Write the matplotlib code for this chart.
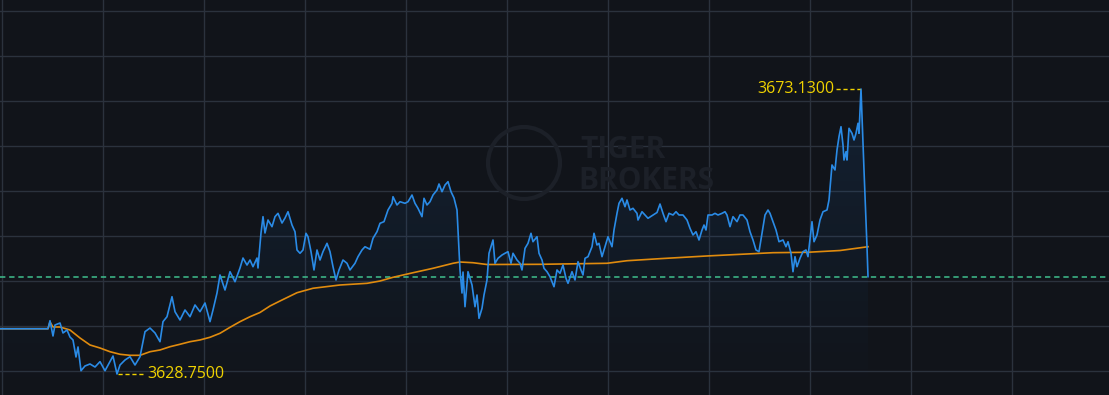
import numpy as np
import matplotlib
matplotlib.use("Agg")
import matplotlib.pyplot as plt
from matplotlib.patches import Polygon, Ellipse
from matplotlib.colors import LinearSegmentedColormap

# ---- data (time index, price) ----
t_price = [0, 48, 50, 53, 55, 60, 63, 67, 70, 73, 76, 78, 81, 85, 90, 95, 100, 105, 110, 113,
           117, 120, 125, 130, 135, 140, 145, 150, 155, 160, 163, 167, 172, 175, 180, 185, 190, 195,
           200, 205, 210, 213, 217, 220, 225, 230, 235, 240, 243, 247, 250, 253, 257, 258, 261, 263,
           265, 268, 272, 275, 278, 282, 285, 288, 292, 295, 297, 300, 303, 306, 308, 311, 314, 317,
           320, 323, 327, 330, 333, 336, 339, 343, 347, 350, 355, 358, 362, 365, 370, 373, 377, 380,
           384, 388, 392, 393, 397, 400, 405, 408, 412, 415, 418, 422, 424, 427, 430, 433, 437, 439,
           442, 445, 448, 451, 454, 457, 458, 460, 462, 463, 465, 468, 472, 475, 477, 479, 482, 484,
           487, 489, 493, 495, 498, 502, 505, 508, 511, 513, 517, 520, 522, 525, 528, 531, 533, 537,
           539, 542, 544, 547, 550, 554, 557, 560, 563, 566, 568, 572, 575, 578, 581, 583, 585, 588,
           592, 594, 597, 599, 602, 605, 608, 612, 614, 617, 619, 622, 625, 627, 630, 633, 637, 638,
           642, 645, 648, 653, 657, 660, 663, 666, 669, 673, 676, 679, 683, 687, 690, 693, 696, 699,
           702, 704, 706, 708, 712, 715, 718, 722, 725, 727, 730, 733, 737, 740, 743, 747, 750, 753,
           756, 759, 762, 765, 768, 770, 773, 776, 779, 783, 786, 788, 791, 793, 795, 797, 800, 803,
           806, 808, 812, 814, 817, 820, 823, 827, 829, 832, 835, 837, 839, 841, 843, 844, 846, 847,
           849, 852, 854, 856, 858, 859, 861, 864, 867, 868]
price = [3635.80, 3635.80, 3637.05, 3634.67, 3636.38, 3636.69, 3635.14, 3635.60, 3634.51, 3634.05,
         3631.40, 3632.96, 3629.26, 3630.00, 3630.31, 3629.84, 3630.67, 3629.26, 3630.67, 3631.55,
         3628.75, 3630.15, 3630.93, 3631.44, 3630.15, 3631.44, 3635.34, 3635.91, 3635.14, 3633.78,
         3636.90, 3637.67, 3640.79, 3638.45, 3637.16, 3638.72, 3637.67, 3639.50, 3638.45, 3639.81,
         3636.90, 3638.72, 3641.36, 3644.17, 3641.83, 3644.68, 3643.12, 3645.26, 3646.81, 3645.72,
         3646.50, 3645.46, 3646.81, 3645.26, 3650.71, 3653.25, 3650.71, 3652.73, 3651.69, 3653.25,
         3653.77, 3652.26, 3653.04, 3654.02, 3651.95, 3650.91, 3648.06, 3647.55, 3648.06, 3650.66,
         3650.13, 3647.80, 3644.95, 3648.06, 3646.50, 3647.80, 3649.10, 3647.80, 3645.46, 3643.39,
         3644.95, 3646.50, 3645.99, 3644.95, 3645.99, 3647.02, 3648.06, 3648.57, 3648.17, 3649.88,
         3650.91, 3652.22, 3652.47, 3654.29, 3655.33, 3656.36, 3655.07, 3655.58, 3655.33, 3655.58,
         3656.62, 3655.33, 3654.55, 3653.25, 3656.11, 3655.07, 3655.58, 3656.62, 3657.40, 3658.34,
         3657.14, 3658.18, 3658.70, 3657.14, 3656.16, 3654.29, 3651.17, 3644.95, 3641.36, 3644.63,
         3639.23, 3644.68, 3642.61, 3639.23, 3641.05, 3637.42, 3638.98, 3641.05, 3643.39, 3647.55,
         3649.62, 3645.99, 3646.77, 3647.28, 3647.55, 3647.80, 3645.99, 3647.55, 3646.50, 3645.99,
         3644.95, 3648.32, 3649.10, 3650.66, 3649.35, 3650.13, 3647.55, 3646.50, 3645.21, 3644.68,
         3643.90, 3642.34, 3644.95, 3644.43, 3645.72, 3643.65, 3642.87, 3644.68, 3643.39, 3646.24,
         3644.95, 3644.17, 3646.77, 3647.02, 3648.57, 3650.66, 3648.84, 3649.10, 3647.02, 3648.57,
         3650.13, 3648.57, 3651.17, 3653.77, 3655.33, 3656.11, 3654.80, 3655.85, 3654.29, 3654.55,
         3653.77, 3652.73, 3654.02, 3653.51, 3653.00, 3653.51, 3653.90, 3655.22, 3653.77, 3652.47,
         3653.77, 3653.51, 3654.02, 3653.51, 3653.51, 3652.73, 3651.44, 3650.40, 3650.91, 3649.62,
         3651.17, 3651.95, 3651.17, 3653.51, 3653.51, 3653.77, 3653.51, 3653.77, 3654.02, 3653.51,
         3651.69, 3653.25, 3652.47, 3653.51, 3653.51, 3652.73, 3650.91, 3649.62, 3648.06, 3647.80,
         3650.66, 3653.51, 3654.29, 3653.77, 3652.47, 3651.17, 3649.35, 3649.62, 3648.57, 3649.35,
         3647.55, 3644.68, 3647.02, 3645.46, 3646.77, 3647.80, 3648.06, 3647.02, 3652.47, 3649.35,
         3650.40, 3652.73, 3654.02, 3654.29, 3655.85, 3661.30, 3660.52, 3663.63, 3665.70, 3667.26,
         3664.41, 3662.07, 3663.37, 3662.07, 3667.01, 3666.23, 3665.19, 3666.23, 3667.79, 3666.23,
         3673.13, 3660.52, 3648.57, 3643.90]

t_avg = [0, 48, 50, 53, 60, 70, 80, 90, 100, 110, 120, 130, 140, 150, 160, 170, 180, 190, 200,
         210, 220, 230, 240, 250, 260, 270, 280, 297, 313, 340, 367, 380, 393, 413, 433, 453, 460,
         473, 487, 540, 607, 627, 660, 707, 773, 807, 840, 868]
avg_price = [3635.80, 3635.80, 3636.85, 3636.07, 3636.07, 3635.60, 3634.36, 3633.27, 3632.80,
             3632.22, 3631.82, 3631.66, 3631.66, 3632.22, 3632.49, 3633.00, 3633.38, 3633.78,
             3634.05, 3634.47, 3635.09, 3636.02, 3636.90, 3637.67, 3638.33, 3639.34, 3640.12,
             3641.41, 3642.10, 3642.61, 3642.87, 3643.23, 3643.81, 3644.52, 3645.21, 3645.99,
             3646.19, 3646.08, 3645.80, 3645.83, 3645.99, 3646.39, 3646.71, 3647.13, 3647.64,
             3647.70, 3647.98, 3648.57]

prev_close = 3643.81
y_top, y_bottom = 3686.99, 3625.48
x_end = 1109

# ---- styling ----
BG = "#11141a"
GRID = "#2b323d"
BLUE = "#2a8be6"
ORANGE = "#e08b0e"
YELLOW = "#f0d200"
GREEN = "#3fc08e"

W, H = 1109, 395
fig = plt.figure(figsize=(W / 100, H / 100), dpi=100, facecolor=BG)
ax = fig.add_axes([0, 0, 1, 1], facecolor=BG)
ax.set_xlim(0, x_end)
ax.set_ylim(y_bottom, y_top)
for s in ax.spines.values():
    s.set_visible(False)
ax.set_xticks([])
ax.set_yticks([])

yspan = y_top - y_bottom
# grid (layout: every 45 px vertically, 101 px horizontally)
for k in range(9):
    gy = y_top - (11.3 + 45 * k) / H * yspan
    ax.axhline(gy, color=GRID, lw=1.0, zorder=1)
for k in range(11):
    gx = 1.5 + 101 * k
    ax.axvline(gx, color=GRID, lw=1.0, zorder=1)

# watermark
wm = "#1c2028"
cx, cy = 524, 163
ax.add_patch(Ellipse((cx, y_top - cy / H * yspan), 72, 72 / H * yspan,
                     fill=False, ec=wm, lw=3, zorder=1.2))
ax.text(580, y_top - 150 / H * yspan, "TIGER", color=wm, fontsize=21.5, fontweight="bold",
        family="Open Sans", va="center", ha="left", zorder=1.2)
ax.text(578, y_top - 181 / H * yspan, "BROKERS", color=wm, fontsize=21.5, fontweight="bold",
        family="Open Sans", va="center", ha="left", zorder=1.2)

t = np.array(t_price, dtype=float)
p = np.array(price)

# gradient fill under the price line
verts = [(t[0], y_bottom)] + list(zip(t, p)) + [(t[-1], y_bottom)]
poly = Polygon(verts, closed=True, facecolor="none", edgecolor="none")
ax.add_patch(poly)
grad = np.linspace(0, 1, 256).reshape(-1, 1)
cmap = LinearSegmentedColormap.from_list("g", [(0.12, 0.45, 0.8, 0.0), (0.12, 0.45, 0.8, 0.14)])
im = ax.imshow(grad, extent=[0, x_end, y_bottom, p.max()], origin="lower", aspect="auto",
               cmap=cmap, zorder=1.5)
im.set_clip_path(poly)

# prev close dashed
ax.axhline(prev_close, color=GREEN, lw=1.1, ls=(0, (3.5, 2.5)), zorder=2)

ax.plot(t_avg, avg_price, color=ORANGE, lw=1.2, zorder=3)
ax.plot(t, p, color=BLUE, lw=1.2, zorder=4)
ax.set_xlim(0, x_end)
ax.set_ylim(y_bottom, y_top)

# max / min annotations
imax = int(np.argmax(p))
imin = int(np.argmin(p))
ax.plot([t[imax] - 25, t[imax] - 1], [p[imax], p[imax]], color=YELLOW, lw=1, ls=(0, (3, 2)), zorder=5)
ax.text(t[imax] - 27, p[imax], f"{p[imax]:.4f}", color=YELLOW, fontsize=11.5, family="Open Sans",
        ha="right", va="center", zorder=5)
ax.plot([t[imin] + 1, t[imin] + 26], [p[imin], p[imin]], color=YELLOW, lw=1, ls=(0, (3, 2)), zorder=5)
ax.text(t[imin] + 30, p[imin], f"{p[imin]:.4f}", color=YELLOW, fontsize=11.5, family="Open Sans",
        ha="left", va="center", zorder=5)

fig.savefig("out.png", dpi=100, facecolor=BG)
